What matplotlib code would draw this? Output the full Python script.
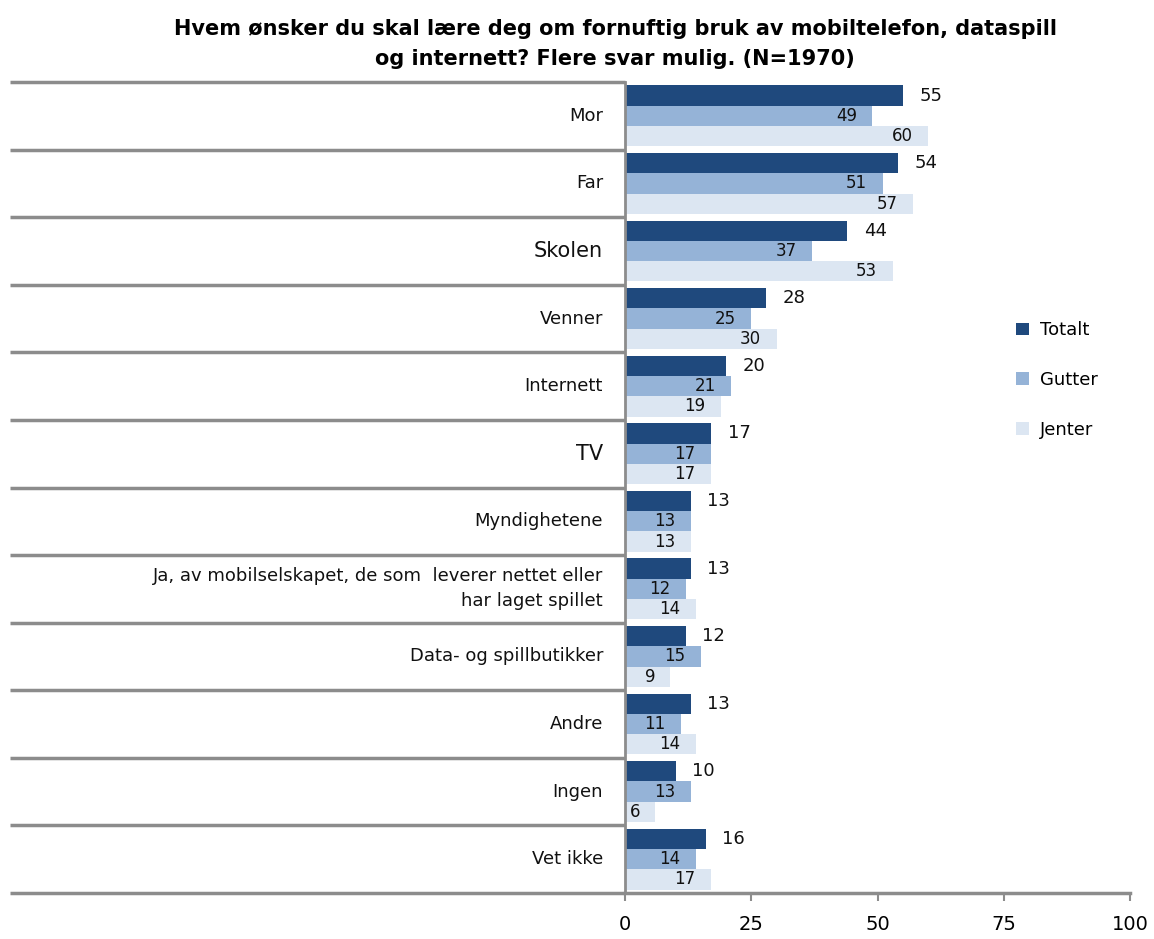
import matplotlib
matplotlib.use("Agg")
import matplotlib.pyplot as plt
import numpy as np

categories = ["Mor", "Far", "Skolen", "Venner", "Internett", "TV", "Myndighetene",
              "Ja, av mobilselskapet, de som  leverer nettet eller\nhar laget spillet",
              "Data- og spillbutikker", "Andre", "Ingen", "Vet ikke"]
totalt = [55, 54, 44, 28, 20, 17, 13, 13, 12, 13, 10, 16]
gutter = [49, 51, 37, 25, 21, 17, 13, 12, 15, 11, 13, 14]
jenter = [60, 57, 53, 30, 19, 17, 13, 14, 9, 14, 6, 17]
series_names = ["Totalt", "Gutter", "Jenter"]
colors = ["#1F497D", "#95B3D7", "#DCE6F2"]
xticks = [0, 25, 50, 75, 100]
title = "Hvem ønsker du skal lære deg om fornuftig bruk av mobiltelefon, dataspill\nog internett? Flere svar mulig. (N=1970)"

W, H = 1154, 939
fig = plt.figure(figsize=(W / 100, H / 100), dpi=100)
ax = fig.add_axes([625 / W, 1 - 893 / H, (1130 - 625) / W, (893 - 82) / H])

n = len(categories)
y = np.arange(n)
bh = 0.3
grey = "#8C8C8C"

for k, (vals, c) in enumerate(zip([totalt, gutter, jenter], colors)):
    ax.barh(y + (k - 1) * bh, vals, height=bh, color=c, label=series_names[k], zorder=2)

for i in range(n):
    ax.annotate(str(totalt[i]), (totalt[i], y[i] - bh), xytext=(12, 0), textcoords="offset points",
                ha="left", va="center", fontsize=13, color="#111111")
    ax.annotate(str(gutter[i]), (gutter[i], y[i]), xytext=(-11, 0), textcoords="offset points",
                ha="right", va="center", fontsize=12, color="#111111")
    ax.annotate(str(jenter[i]), (jenter[i], y[i] + bh), xytext=(-11, 0), textcoords="offset points",
                ha="right", va="center", fontsize=12, color="#111111")

ax.set_xlim(0, 100)
ax.set_ylim(n - 0.5, -0.5)
ax.set_yticks([])
ax.set_xticks(xticks)
ax.set_xticklabels([str(t) for t in xticks], fontsize=14)
ax.tick_params(axis="x", direction="out", length=6, width=1.5, color=grey, pad=10)

for s in ["top", "right"]:
    ax.spines[s].set_visible(False)
ax.spines["left"].set_color(grey)
ax.spines["left"].set_linewidth(2)
ax.spines["bottom"].set_color(grey)
ax.spines["bottom"].set_linewidth(2.5)

trans = ax.get_yaxis_transform()
x0 = (10 - 625) / (1130 - 625)
for i in range(n + 1):
    ax.plot([x0, 0], [i - 0.5, i - 0.5], transform=trans, color=grey, lw=2.5, clip_on=False,
            solid_capstyle="butt", zorder=3)

label_sizes = {"Skolen": 15, "TV": 15}
for i, cat in enumerate(categories):
    fs = label_sizes.get(cat, 13)
    ax.text(-22 / 505, y[i], cat, transform=trans, ha="right", va="center", fontsize=fs,
            color="#111111", linespacing=1.5)

fig.text(615 / W, 1 - 44 / H, title, ha="center", va="center", fontsize=15, fontweight="bold",
         linespacing=1.65)

leg = ax.legend(loc="center left", bbox_to_anchor=(1000 / W, 1 - 380 / H), bbox_transform=fig.transFigure,
                frameon=False, fontsize=13, handlelength=0.7, handleheight=0.7, labelspacing=1.75,
                handletextpad=0.6)

fig.savefig("out.png", dpi=100)
